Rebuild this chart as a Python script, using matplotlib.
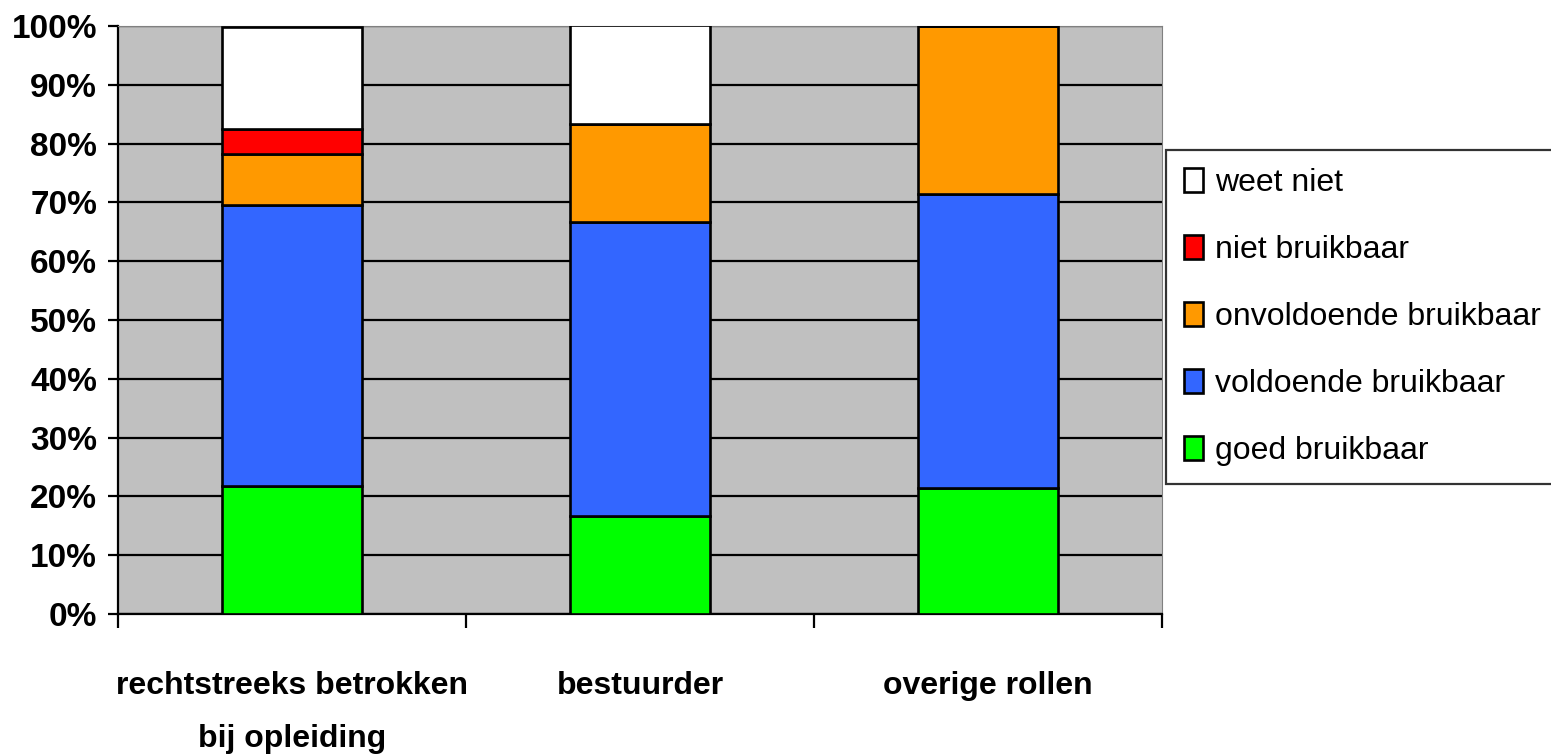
import numpy as np
import matplotlib
matplotlib.use("Agg")
import matplotlib.pyplot as plt
from matplotlib.ticker import FuncFormatter

plt.rcParams['font.family'] = ['Liberation Sans', 'DejaVu Sans']

groups = ['rechtstreeks betrokken\nbij opleiding', 'bestuurder', 'overige rollen']
series = ['goed bruikbaar', 'voldoende bruikbaar', 'onvoldoende bruikbaar',
          'niet bruikbaar', 'weet niet']
goed = [21.7, 16.7, 21.4]
voldoende = [47.8, 50.0, 50.0]
onvoldoende = [8.7, 16.7, 28.6]
niet = [4.3, 0.0, 0.0]
weet_niet = [17.4, 16.7, 0.0]
colors = ['#00FF00', '#3366FF', '#FF9900', '#FF0000', '#FFFFFF']

fig = plt.figure(figsize=(15.51, 7.56), dpi=100)
ax = fig.add_axes([0.0761, 0.1878, 0.6731, 0.7778])
ax.set_facecolor('#C0C0C0')

x = np.arange(len(groups))
bottom = np.zeros(len(groups))
handles = []
for name, vals, col in zip(series, [goed, voldoende, onvoldoende, niet, weet_niet], colors):
    vals = np.array(vals)
    b = ax.bar(x, vals, 0.405, bottom=bottom, color=col, edgecolor='black',
               linewidth=1.9, label=name, zorder=3)
    handles.append(b)
    bottom += vals

ax.set_xlim(-0.5, 2.5)
ax.set_ylim(0, 100)
ax.set_yticks(np.arange(0, 101, 10))
ax.yaxis.set_major_formatter(FuncFormatter(lambda v, p: f'{v:.0f}%'))
ax.yaxis.grid(True, color='black', linewidth=1.6, zorder=0)
ax.set_axisbelow(True)

ax.set_xticks(x)
ax.set_xticklabels(groups, fontsize=23, fontweight='bold', linespacing=2.0)
ax.tick_params(axis='x', length=0, pad=41)
ax.set_xticks([-0.5, 0.5, 1.5, 2.5], minor=True)
ax.tick_params(axis='x', which='minor', length=10, width=1.6, color='black')
ax.tick_params(axis='y', length=7, width=1.6, pad=8, labelsize=24)
for lab in ax.get_yticklabels():
    lab.set_fontweight('bold')

ax.spines['left'].set_linewidth(1.6)
ax.spines['bottom'].set_linewidth(1.6)
ax.spines['top'].set_color('#808080')
ax.spines['right'].set_color('#808080')

leg = fig.legend(handles[::-1], series[::-1], loc='upper left',
                 bbox_to_anchor=(1166 / 1551, 1 - 150 / 756),
                 fontsize=23, frameon=True, fancybox=False, edgecolor='black',
                 handlelength=0.62, handleheight=0.8, handletextpad=0.37,
                 labelspacing=1.15, borderpad=0.55, borderaxespad=0)
leg.get_frame().set_linewidth(1.6)

fig.savefig('out.png', dpi=100)
